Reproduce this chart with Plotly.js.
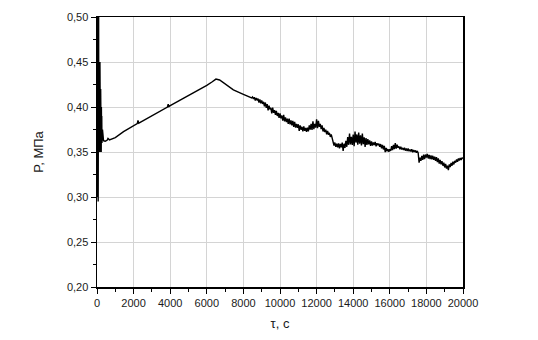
<!DOCTYPE html>
<html>
<head>
<meta charset="utf-8">
<script src="https://cdn.plot.ly/plotly-3.0.1.min.js"></script>
<style>html,body{margin:0;padding:0;background:#fff;}#chart{width:538px;height:340px;}</style>
</head>
<body>
<div id="chart"></div>
<script>
// Initial oscillation (0 - 380 s)
const tStart = [0,8,16,24,32,40,48,56,64,72,80,88,96,104,112,120,130,140,150,160,170,180,190,200,210,220,230,240,250,260,270,280,290,300,320,340,360,380];
const pStart = [0.36,0.52,0.33,0.51,0.30,0.52,0.35,0.50,0.295,0.51,0.34,0.52,0.36,0.45,0.35,0.45,0.36,0.44,0.35,0.45,0.37,0.43,0.35,0.42,0.36,0.41,0.35,0.40,0.37,0.39,0.36,0.38,0.37,0.375,0.365,0.363,0.362,0.3625];

// Smooth rise and peak (450 - 8363 s)
const tRise = [450,550,600,680,1000,1450,2000,2200,2240,2280,2360,3000,3450,3850,3890,3930,4000,4500,5000,5500,6000,6300,6500,6700,7000,7452,8000,8363];
const pRise = [0.362,0.363,0.365,0.3635,0.366,0.3726,0.379,0.3815,0.385,0.382,0.383,0.390,0.395,0.400,0.403,0.4005,0.4015,0.407,0.4125,0.418,0.424,0.428,0.431,0.430,0.426,0.419,0.414,0.411];

// Noisy decline (8400 - 20000 s)
const tNoise = [
  8400,8450,8500,8550,8600,8650,8700,8750,8800,8850,8900,8950,
  9000,9050,9100,9150,9200,9250,9300,9350,9400,9450,9500,9550,9600,9650,9700,9750,9800,9850,9900,9950,
  10000,10050,10100,10150,10200,10250,10300,10350,10400,10450,10500,10550,10600,10650,10700,10750,10800,10850,10900,10950,
  11000,11050,11100,11150,11200,11250,11300,11350,11400,11450,11500,11550,11600,11650,11700,11750,11800,11850,11900,11950,
  12000,12050,12100,12150,12200,12250,12300,12350,12400,12450,12500,12550,12600,12650,12700,12750,12800,12850,12900,12950,
  13000,13050,13100,13150,13200,13250,13300,13350,13400,13450,13500,13550,13600,13650,13700,13750,13800,13850,13900,13950,
  14000,14050,14100,14150,14200,14250,14300,14350,14400,14450,14500,14550,14600,14650,14700,14750,14800,14850,14900,14950,
  15000,15050,15100,15150,15200,15250,15300,15350,15400,15450,15500,15550,15600,15650,15700,15750,15800,15850,15900,15950,
  16000,16050,16100,16150,16200,16250,16300,16350,16400,16450,16500,16550,16600,16650,16700,16750,16800,16850,16900,16950,
  17000,17050,17100,17150,17200,17250,17300,17350,17400,17450,17500,17550,17600,17650,17700,17750,17800,17850,17900,17950,
  18000,18050,18100,18150,18200,18250,18300,18350,18400,18450,18500,18550,18600,18650,18700,18750,18800,18850,18900,18950,
  19000,19050,19100,19150,19200,19250,19300,19350,19400,19450,19500,19550,19600,19650,19700,19750,19800,19850,19900,19950,
  20000];
const pNoise = [
  0.4110,0.4100,0.4112,0.4090,0.4108,0.4072,0.4100,0.4078,0.4092,0.4050,0.4085,0.4040,
  0.4072,0.4035,0.4058,0.4008,0.4050,0.3990,0.4032,0.3962,0.4015,0.3975,0.3990,0.3930,0.3992,0.3935,0.3965,0.3912,0.3958,0.3900,0.3935,0.3880,
  0.3930,0.3875,0.3905,0.3848,0.3912,0.3840,0.3885,0.3832,0.3870,0.3812,0.3872,0.3808,0.3852,0.3795,0.3845,0.3780,0.3835,0.3772,0.3812,0.3768,
  0.3808,0.3735,0.3795,0.3748,0.3780,0.3728,0.3785,0.3735,0.3768,0.3725,0.3770,0.3730,0.3795,0.3748,0.3812,0.3745,0.3840,0.3755,0.3812,0.3770,
  0.3862,0.3765,0.3845,0.3780,0.3812,0.3755,0.3795,0.3728,0.3768,0.3722,0.3748,0.3695,0.3735,0.3692,0.3712,0.3668,0.3695,0.3640,0.3612,0.3572,
  0.3605,0.3558,0.3592,0.3552,0.3595,0.3540,0.3590,0.3552,0.3605,0.3512,0.3592,0.3545,0.3625,0.3558,0.3665,0.3580,0.3705,0.3585,0.3668,0.3578,
  0.3695,0.3565,0.3728,0.3605,0.3695,0.3580,0.3715,0.3592,0.3685,0.3572,0.3705,0.3588,0.3662,0.3555,0.3655,0.3578,0.3642,0.3585,0.3630,0.3568,
  0.3618,0.3572,0.3605,0.3578,0.3612,0.3562,0.3598,0.3575,0.3592,0.3558,0.3588,0.3540,0.3578,0.3528,0.3568,0.3498,0.3545,0.3508,0.3532,0.3502,
  0.3532,0.3512,0.3565,0.3522,0.3578,0.3532,0.3600,0.3538,0.3582,0.3548,0.3562,0.3530,0.3558,0.3528,0.3545,0.3522,0.3548,0.3515,0.3538,0.3512,
  0.3538,0.3508,0.3528,0.3505,0.3530,0.3498,0.3522,0.3500,0.3518,0.3492,0.3512,0.3490,0.3382,0.3438,0.3402,0.3458,0.3412,0.3470,0.3422,0.3472,
  0.3438,0.3480,0.3428,0.3468,0.3422,0.3462,0.3418,0.3458,0.3412,0.3448,0.3402,0.3442,0.3388,0.3428,0.3372,0.3412,0.3362,0.3398,0.3348,0.3382,
  0.3328,0.3368,0.3315,0.3348,0.3298,0.3362,0.3332,0.3378,0.3348,0.3392,0.3362,0.3402,0.3382,0.3418,0.3392,0.3428,0.3405,0.3432,0.3412,0.3435,
  0.3430];

const xTitle = "τ, с";
const yTitle = "P, МПа";

const tAll = tStart.concat(tRise, tNoise);
const pAll = pStart.concat(pRise, pNoise);

const font = "Liberation Sans, Arial, sans-serif";

Plotly.newPlot('chart', [{
  x: tAll, y: pAll, type: 'scatter', mode: 'lines',
  line: {color: '#000', width: 1.4}, hoverinfo: 'skip'
}], {
  width: 538, height: 340,
  margin: {l: 97, r: 75, t: 17, b: 53, pad: 0},
  paper_bgcolor: '#fff', plot_bgcolor: '#fff',
  separators: ', ',
  showlegend: false,
  font: {family: font, size: 11, color: '#1a1a1a'},
  xaxis: {
    range: [0, 20000], dtick: 2000, tick0: 0, tickformat: 'd', exponentformat: 'none',
    showline: true, mirror: true, linecolor: '#000', linewidth: 1.5,
    ticks: 'outside', ticklen: 5, tickcolor: '#000', tickwidth: 1,
    minor: {ticks: 'outside', dtick: 1000, ticklen: 3, tickcolor: '#000', showgrid: false},
    showgrid: true, gridcolor: '#d4d4d4', gridwidth: 1, zeroline: false,
    title: {text: xTitle, font: {family: font, size: 13, color: '#1a1a1a'}, standoff: 11}
  },
  yaxis: {
    range: [0.2, 0.5], dtick: 0.05, tick0: 0.2, tickformat: '.2f',
    showline: true, mirror: true, linecolor: '#000', linewidth: 1.5,
    ticks: 'outside', ticklen: 5, tickcolor: '#000', tickwidth: 1,
    minor: {ticks: 'outside', dtick: 0.025, ticklen: 3, tickcolor: '#000', showgrid: false},
    showgrid: true, gridcolor: '#d4d4d4', gridwidth: 1, zeroline: false,
    title: {text: yTitle, font: {family: font, size: 13, color: '#1a1a1a'}, standoff: 20}
  }
}, {staticPlot: true, displayModeBar: false});
</script>
</body>
</html>
